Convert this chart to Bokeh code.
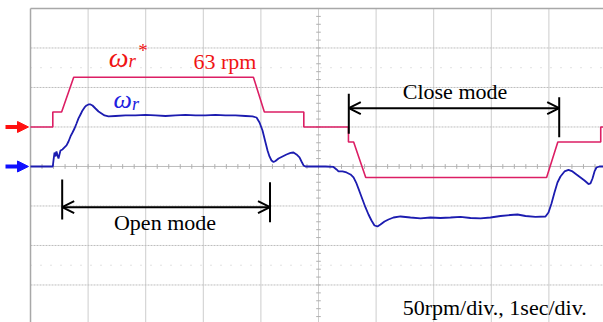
from bokeh.plotting import figure
from bokeh.models import Arrow, NormalHead, OpenHead
from bokeh.core.properties import value
from bokeh.embed import file_html
from bokeh.resources import INLINE
import numpy as np

# ---------------- data ----------------
# time in s (1 s/div), speed in rpm (50 rpm/div)
ref_t = [0.0, 0.387, 0.387, 0.54, 0.75, 3.87, 4.06, 4.745, 4.745, 5.52, 5.52,
         5.61, 5.82, 8.96, 9.155, 9.90, 9.90, 9.95]
ref_rpm = [0, 0, 19, 19, 63, 63, 19, 19, 0, 0, -19, -19, -64, -64, -19, -19, 0, 0]

spd_t = [0.000, 0.387, 0.399, 0.417, 0.434, 0.451, 0.469, 0.486, 0.503, 0.521,
         0.556, 0.590, 0.625, 0.660, 0.694, 0.729, 0.764, 0.799, 0.833, 0.868,
         0.903, 0.938, 0.972, 1.007, 1.042, 1.076, 1.128, 1.181, 1.233, 1.285,
         1.354, 1.476, 1.649, 1.823, 1.997, 2.170, 2.344, 2.517, 2.691, 2.865,
         3.038, 3.212, 3.385, 3.559, 3.733, 3.854, 3.924, 3.976, 4.028, 4.080,
         4.115, 4.149, 4.184, 4.219, 4.253, 4.306, 4.375, 4.444, 4.514, 4.566,
         4.618, 4.670, 4.705, 4.740, 4.774, 4.948, 5.122, 5.260, 5.313, 5.347,
         5.417, 5.486, 5.556, 5.608, 5.660, 5.712, 5.764, 5.816, 5.868, 5.920,
         5.972, 6.024, 6.076, 6.146, 6.215, 6.302, 6.424, 6.597, 6.771, 6.944,
         7.118, 7.292, 7.465, 7.639, 7.813, 7.986, 8.160, 8.333, 8.455, 8.594,
         8.767, 8.941, 8.993, 9.045, 9.097, 9.149, 9.201, 9.271, 9.340, 9.410,
         9.479, 9.549, 9.618, 9.688, 9.722, 9.757, 9.792, 9.826, 9.878, 9.948]
spd_rpm = [0, 0, 7.6, 17.7, 12.7, 19.0, 13.9, 10.1, 15.2, 20.3,
           21.5, 24.1, 26.6, 31.6, 38.0, 43.0, 48.1, 54.4, 60.8, 65.8,
           70.9, 74.7, 77.2, 78.5, 78.5, 77.2, 73.4, 69.6, 67.1, 64.6,
           63.3, 63.9, 64.6, 64.6, 65.2, 64.6, 63.9, 64.6, 65.2, 64.6,
           64.6, 65.2, 64.6, 64.6, 63.9, 63.3, 62.0, 55.7, 45.6, 30.4,
           20.3, 12.7, 7.6, 5.7, 7.0, 10.1, 12.7, 15.2, 17.1, 17.7,
           15.2, 11.4, 6.3, 1.3, 0, 0, 0, -0.6, -3.8, -6.3,
           -6.3, -7.6, -10.1, -13.9, -21.5, -31.6, -41.8, -51.9, -60.8, -68.4,
           -74.7, -75.9, -73.4, -69.6, -67.1, -64.6, -63.3, -64.6, -65.8, -64.6,
           -65.2, -64.6, -63.9, -65.2, -65.8, -64.6, -62.7, -61.4, -60.8, -62.7,
           -63.9, -63.3, -58.2, -46.8, -32.9, -20.3, -12.7, -6.3, -4.4, -6.3,
           -10.1, -13.9, -17.7, -22.2, -21.5, -15.2, -6.3, -1.3, 0, 0]

# screen: 10 x 8 divisions
T_DIVS = list(range(0, 11))            # s
V_DIVS = list(range(-4, 5))            # divisions
RPM_PER_DIV = 50
REF_OFFSET = 1 * RPM_PER_DIV           # reference channel shifted up one division

open_mode = (0.55, 4.158)
close_mode = (5.526, 9.179)

# ---------------- figure ----------------
p = figure(width=603, height=322, x_range=(-0.521, 9.948), y_range=(-197.5, 210.1),
           output_backend="svg", toolbar_location=None, min_border=0,
           x_axis_location=None, y_axis_location=None)
p.grid.visible = False
p.outline_line_color = None
p.background_fill_color = "white"
p.border_fill_color = "white"

top = V_DIVS[-1] * RPM_PER_DIV
bot = V_DIVS[0] * RPM_PER_DIV

# vertical grid lines
inner_t = [t for t in T_DIVS[1:-1]]
p.segment(x0=inner_t, y0=[bot] * len(inner_t), x1=inner_t, y1=[top] * len(inner_t),
          line_color="#cdcdcd", line_width=1)
# horizontal grid lines
inner_v = [v * RPM_PER_DIV for v in V_DIVS[1:-1] if v != 0]
p.segment(x0=[0] * len(inner_v), y0=inner_v, x1=[T_DIVS[-1]] * len(inner_v), y1=inner_v,
          line_color="#bdbdbd", line_width=1, line_dash="2 1")
# center lines
p.segment(x0=[0], y0=[0], x1=[T_DIVS[-1]], y1=[0], line_color="#bdbdbd", line_width=1)
# sparse dotted cursor lines at +-2.5 div
cur = [2.5 * RPM_PER_DIV, -2.5 * RPM_PER_DIV]
p.segment(x0=[0, 0], y0=cur, x1=[T_DIVS[-1]] * 2, y1=cur,
          line_color="#c4c4c4", line_width=1, line_dash="1 9")
# minor ticks on center lines
tx = np.arange(0, 10.001, 0.2)
p.segment(x0=tx, y0=[-3.0] * len(tx), x1=tx, y1=[3.0] * len(tx), line_color="#b0b0b0", line_width=1)
ty = np.arange(bot, top + 0.1, RPM_PER_DIV / 5)
p.segment(x0=[4.96] * len(ty), y0=ty, x1=[5.04] * len(ty), y1=ty, line_color="#b0b0b0", line_width=1)
# outer border (left and top)
p.segment(x0=[0, 0], y0=[bot, top], x1=[0, T_DIVS[-1]], y1=[top, top],
          line_color="#a8a8a8", line_width=1.5)

# traces
p.line(ref_t, [r + REF_OFFSET for r in ref_rpm], line_color="#dc1e64", line_width=1.6)
p.line(spd_t, spd_rpm, line_color="#1c1cb0", line_width=1.8)

# channel markers
p.add_layout(Arrow(end=NormalHead(size=11, fill_color="#ff1010", line_color="#ff1010"),
                   x_start=-0.434, y_start=REF_OFFSET, x_end=-0.035, y_end=REF_OFFSET,
                   line_color="#ff1010", line_width=4))
p.add_layout(Arrow(end=NormalHead(size=11, fill_color="#1010ff", line_color="#1010ff"),
                   x_start=-0.434, y_start=0, x_end=-0.035, y_end=0,
                   line_color="#1010ff", line_width=4))

# mode arrows
p.add_layout(Arrow(start=OpenHead(size=12, line_width=2), end=OpenHead(size=12, line_width=2),
                   x_start=open_mode[0], y_start=-51.5, x_end=open_mode[1], y_end=-51.5,
                   line_color="black", line_width=2))
p.segment(x0=[open_mode[0], open_mode[1]], y0=[-16.5, -19.9],
          x1=[open_mode[0], open_mode[1]], y1=[-67.0, -70.5], line_color="black", line_width=2)
p.add_layout(Arrow(start=OpenHead(size=12, line_width=2), end=OpenHead(size=12, line_width=2),
                   x_start=close_mode[0], y_start=73.8, x_end=close_mode[1], y_end=73.8,
                   line_color="black", line_width=2))
p.segment(x0=[close_mode[0], close_mode[1]], y0=[92.0, 87.7],
          x1=[close_mode[0], close_mode[1]], y1=[41.4, 37.1], line_color="black", line_width=2)

serif = value("Liberation Serif")
RED_TXT = "#f01414"
BLUE_TXT = "#2020e0"
# labels
p.text(x=[1.36], y=[137.5], text=["ω"], text_font=serif, text_font_style="italic",
       text_font_size="28px", text_color=RED_TXT, text_baseline="alphabetic", text_align="left")
p.text(x=[1.70], y=[134.0], text=["r"], text_font=serif, text_font_style="italic",
       text_font_size="19px", text_color=RED_TXT, text_baseline="alphabetic", text_align="left")
p.text(x=[1.87], y=[147.0], text=["*"], text_font=serif, text_font_style="normal",
       text_font_size="19px", text_color=RED_TXT, text_baseline="alphabetic", text_align="left")
p.text(x=[2.830], y=[133.0], text=["63 rpm"], text_font=serif,
       text_font_size="22px", text_color=RED_TXT, text_baseline="alphabetic", text_align="left")
p.text(x=[1.44], y=[85.0], text=["ω"], text_font=serif, text_font_style="italic",
       text_font_size="26px", text_color=BLUE_TXT, text_baseline="alphabetic", text_align="left")
p.text(x=[1.76], y=[78.5], text=["r"], text_font=serif, text_font_style="italic",
       text_font_size="18px", text_color=BLUE_TXT, text_baseline="alphabetic", text_align="left")
p.text(x=[2.335], y=[-71.0], text=["Open mode"], text_font=serif, text_font_size="22px",
       text_color="black", text_baseline="alphabetic", text_align="center")
p.text(x=[7.37], y=[94.5], text=["Close mode"], text_font=serif, text_font_size="22px",
       text_color="black", text_baseline="alphabetic", text_align="center")
p.text(x=[8.059], y=[-178.5], text=["50rpm/div., 1sec/div."], text_font=serif, text_font_size="22px",
       text_color="black", text_baseline="alphabetic", text_align="center")

open("out.html", "w").write(file_html(p, INLINE))
